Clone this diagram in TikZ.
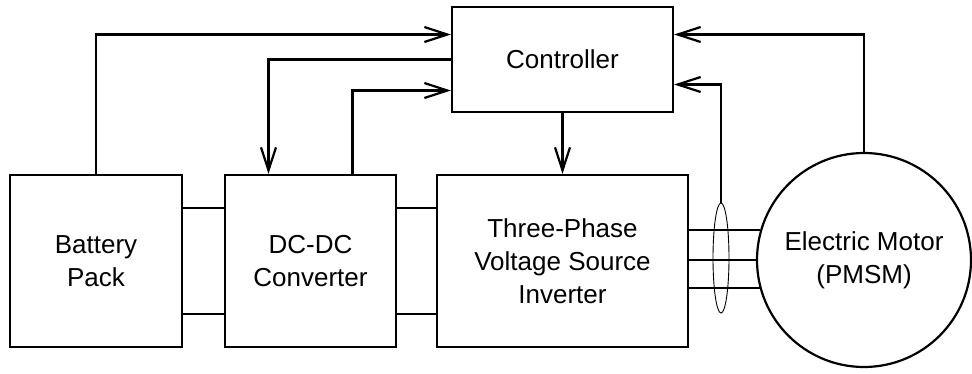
\documentclass[tikz,border=0pt]{standalone}
\usepackage{fontspec}
\setmainfont{Liberation Sans}
\usetikzlibrary{positioning,arrows.meta,calc,shapes.geometric}

\begin{document}
\begin{tikzpicture}[
  x=1pt, y=-1pt,
  line width=2.2pt,
  align=center,
  >={Straight Barb[length=23pt,width=15pt]}, % 箭头样式
  block/.style={draw, inner sep=0pt, font=\fontsize{26}{33}\selectfont},
]
\useasboundingbox (0,0) rectangle (972,373);

% 方框
\node (battery) [block, minimum width=172pt, minimum height=172pt] at (96,261) {Battery\\Pack};
\node (dcdc) [block, minimum width=171pt, minimum height=172pt] at (310.5,261) {DC-DC\\Converter};
\node (inverter) [block, minimum width=251pt, minimum height=172pt] at (562.5,261) {Three-Phase\\Voltage Source\\Inverter};
\node (controller) [block, minimum width=221pt, minimum height=105pt] at (562.5,59.5) {Controller};
\node (motor) [block, circle, minimum size=214pt] at (864,260) {Electric Motor\\(PMSM)};

% 电流传感器
\node (sensor) [draw, ellipse, line width=0.9pt, inner sep=0pt, minimum width=16pt, minimum height=110pt] at (721,258) {};

% 直流母线
\draw ([yshift=53pt]battery.east) -- ([yshift=53pt]dcdc.west);
\draw ([yshift=-53pt]battery.east) -- ([yshift=-53pt]dcdc.west);
\draw ([yshift=53pt]dcdc.east) -- ([yshift=53pt]inverter.west);
\draw ([yshift=-53pt]dcdc.east) -- ([yshift=-53pt]inverter.west);

% 三相线
\draw (inverter.east |- motor.164) -- (motor.164);
\draw (inverter.east |- motor.180) -- (motor.180);
\draw (inverter.east |- motor.195) -- (motor.195);

% 信号线
\draw[->] (battery.north) |- ([yshift=25pt]controller.west);
\draw[->] (controller.west) -| ([xshift=-42pt]dcdc.north);
\draw[->] ([xshift=42pt]dcdc.north) |- ([yshift=-31pt]controller.west);
\draw[->] (controller.south) -- (inverter.north);
\draw[->] (sensor.north) |- ([yshift=-25pt]controller.east);
\draw[->] (motor.north) |- ([yshift=25pt]controller.east);
\end{tikzpicture}
\end{document}
